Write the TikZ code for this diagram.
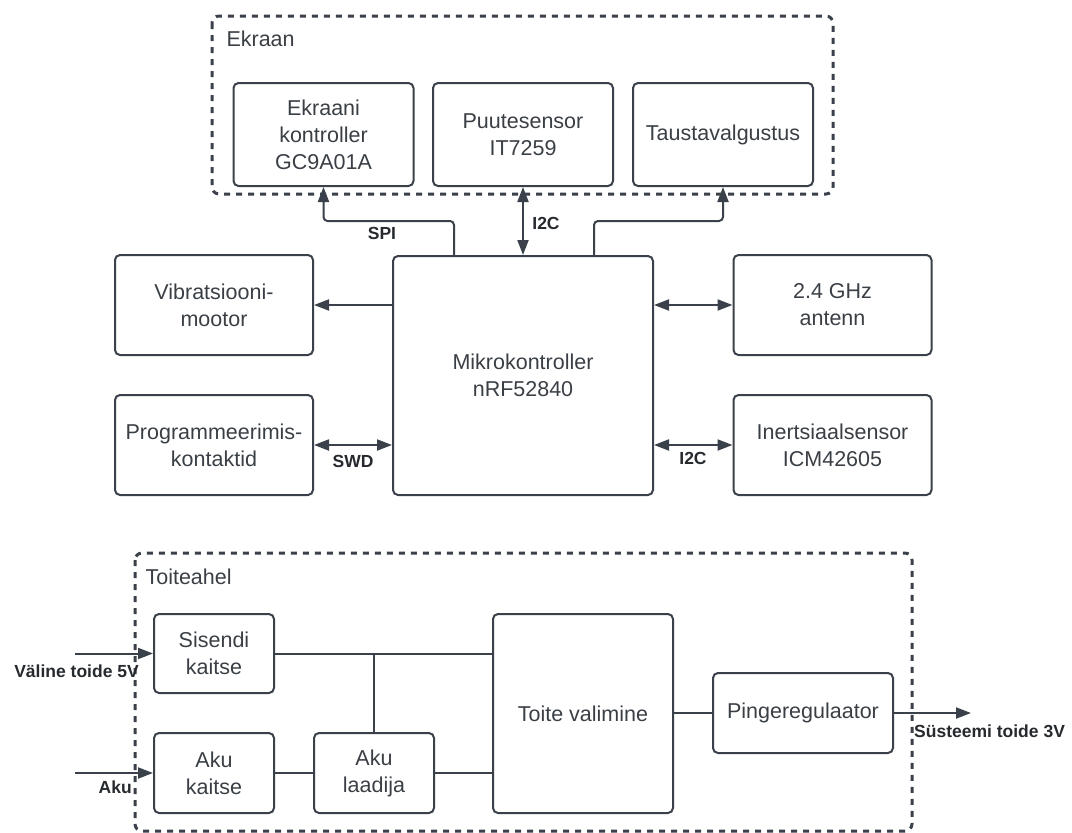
\documentclass[tikz,border=0pt]{standalone}
\usepackage{fontspec}
\setmainfont{Liberation Sans}
\definecolor{lnclr}{RGB}{59,65,74}
\definecolor{txtclr}{RGB}{58,63,69}
\definecolor{lblclr}{RGB}{38,42,46}
\usetikzlibrary{arrows.meta,positioning,calc}

\begin{document}
\begin{tikzpicture}[x=1pt, y=-1pt,
    blk/.style={rectangle, rounded corners=5pt, draw=lnclr, line width=2pt, align=center,
      text=txtclr, font=\fontsize{21.5}{27}\selectfont},
    grp/.style={draw=lnclr, line width=3pt, dash pattern=on 6pt off 6pt, rounded corners=7pt},
    grptxt/.style={anchor=west, text=txtclr, font=\fontsize{21.5}{26}\selectfont},
    lbl/.style={text=lblclr, font=\fontsize{17.5}{20}\selectfont\bfseries, inner sep=0pt},
    ln/.style={draw=lnclr, line width=2pt},
    arr/.style={ln, -{Triangle[length=15pt, width=11pt]}},
    darr/.style={ln, {Triangle[length=15pt, width=11pt]}-{Triangle[length=15pt, width=11pt]}}
  ]
    \useasboundingbox (0,0) rectangle (1072,833);

    % Ekraan
    \draw[grp] (212,16) rectangle (833,194);
    \node[grptxt] (ekraan) at (223,39) {Ekraan};
    \node[blk, minimum width=180pt, minimum height=103pt] (ctrl)  at (323.5,134.5) {Ekraani\\kontroller\\GC9A01A};
    \node[blk, minimum width=180pt, minimum height=103pt] (touch) at (523,134.5)   {Puutesensor\\IT7259};
    \node[blk, minimum width=180pt, minimum height=103pt] (light) at (723,134.5)   {Taustavalgustus};

    % mikrokontroller ja selle ymbrus
    \node[blk, minimum width=260pt, minimum height=239pt] (mcu)  at (523,375.5) {Mikrokontroller\\nRF52840};
    \node[blk, minimum width=198pt, minimum height=100pt] (vib)  at (214,305)   {Vibratsiooni-\\mootor};
    \node[blk, minimum width=198pt, minimum height=100pt] (prog) at (214,445)   {Programmeerimis-\\kontaktid};
    \node[blk, minimum width=198pt, minimum height=100pt] (ant)  at (832.5,305) {2.4 GHz\\antenn};
    \node[blk, minimum width=198pt, minimum height=100pt] (imu)  at (832.5,445) {Inertsiaalsensor\\ICM42605};

    \draw[arr, rounded corners=4pt] ([xshift=-69pt]mcu.north) -- ++(0,-34) -| (ctrl.south);
    \draw[darr] (mcu.north) -- (touch.south);
    \draw[arr, rounded corners=4pt] ([xshift=71pt]mcu.north) -- ++(0,-34) -| (light.south);
    \draw[arr]  (mcu.west |- vib.east) -- (vib.east);
    \draw[darr] (prog.east) -- (mcu.west |- prog.east);
    \draw[darr] (mcu.east |- ant.west) -- (ant.west);
    \draw[darr] (mcu.east |- imu.west) -- (imu.west);

    \node[lbl] (spi)  at (382,233) {SPI};
    \node[lbl] (i2ca) at (546,223) {I2C};
    \node[lbl] (swd)  at (353,461) {SWD};
    \node[lbl] (i2cb) at (693,458) {I2C};

    % Toiteahel
    \draw[grp] (135,553) rectangle (912,831);
    \node[grptxt] (toiteahel) at (142,577) {Toiteahel};
    \node[blk, minimum width=120pt, minimum height=79pt]  (inp)  at (214,653.5) {Sisendi\\kaitse};
    \node[blk, minimum width=120pt, minimum height=80pt]  (batp) at (214,773)   {Aku\\kaitse};
    \node[blk, minimum width=120pt, minimum height=80pt]  (chg)  at (374,773)   {Aku\\laadija};
    \node[blk, minimum width=180pt, minimum height=199pt] (sel)  at (583,713.5) {Toite valimine};
    \node[blk, minimum width=180pt, minimum height=80pt]  (reg)  at (803,713)   {Pingeregulaator};

    \coordinate (ext) at (75,653.5);
    \coordinate (bat) at (75,773);
    \coordinate (out) at (971,713);

    \draw[arr] (ext) -- (inp.west);
    \draw[arr] (bat) -- (batp.west);
    \draw[ln] (inp.east) -- (sel.west |- inp.east);
    \draw[ln] (chg.north) -- (chg.north |- inp.east);
    \draw[ln] (batp.east) -- (chg.west);
    \draw[ln] (chg.east) -- (sel.west |- chg.east);
    \draw[ln] (sel.east |- reg.west) -- (reg.west);
    \draw[arr] (reg.east) -- (out);

    \node[lbl, anchor=east] (extlbl) at (139,671) {Väline toide 5V};
    \node[lbl, anchor=east] (batlbl) at (132,787) {Aku};
    \node[lbl, anchor=west] (outlbl) at (914,731) {Süsteemi toide 3V};
  \end{tikzpicture}
\end{document}
